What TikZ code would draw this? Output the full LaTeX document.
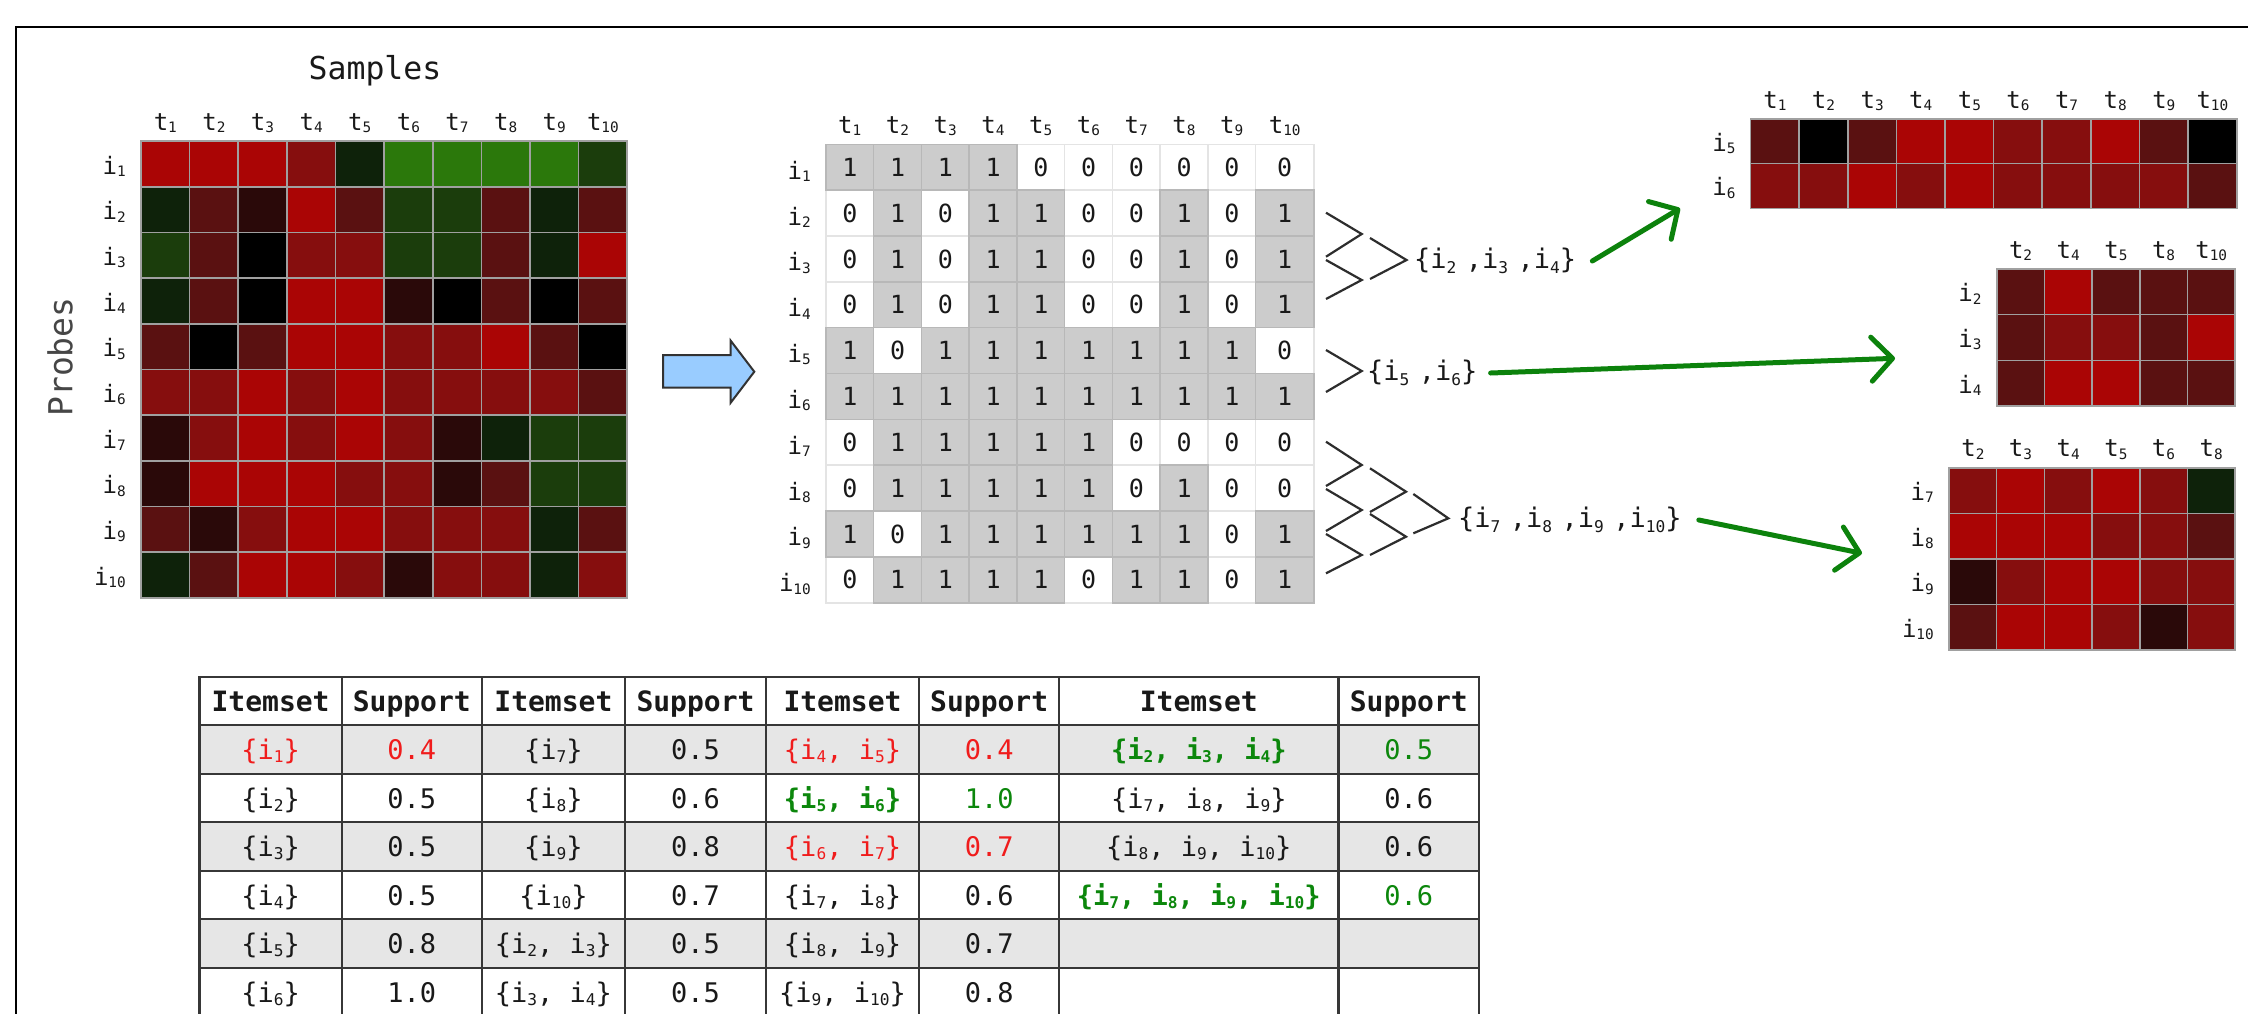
\documentclass[tikz,border=0pt]{standalone}
\usepackage{fontspec}
\setmainfont{DejaVu Sans Mono}
\usepackage{graphicx}
\usetikzlibrary{arrows.meta}

% heat-map palette
\definecolor{hR1}{RGB}{170,5,5}
\definecolor{hR2}{RGB}{134,14,14}
\definecolor{hR3}{RGB}{90,17,17}
\definecolor{hR4}{RGB}{42,9,9}
\definecolor{hK}{RGB}{0,0,0}
\definecolor{hG1}{RGB}{43,120,11}
\definecolor{hG3}{RGB}{27,61,12}
\definecolor{hG4}{RGB}{14,34,10}
\definecolor{hgrid}{RGB}{160,160,160}
% other colours
\definecolor{txt}{RGB}{25,25,25}
\definecolor{probegray}{RGB}{70,70,70}
\definecolor{bingray}{RGB}{204,204,204}
\definecolor{binline}{RGB}{184,184,184}
\definecolor{binlight}{RGB}{228,228,228}
\definecolor{arrowblue}{RGB}{153,204,255}
\definecolor{arrowedge}{RGB}{50,50,50}
\definecolor{chevgray}{RGB}{45,45,45}
\definecolor{linkgreen}{RGB}{12,130,12}
\definecolor{tred}{RGB}{240,28,28}
\definecolor{tgreen}{RGB}{12,135,12}
\definecolor{rowgray}{RGB}{230,230,230}
\definecolor{tabgrid}{RGB}{55,55,55}

% small lowered index digits
\newcommand{\subidx}[1]{\raisebox{-0.1em}{\scalebox{0.6}{#1}}}
\newcommand{\lowidx}[1]{\raisebox{-0.2em}{\scalebox{0.6}{#1}}}
\newcommand{\sgap}{\hspace{0.35em}}

% coloured cells of a heat map: x0, y0, cell width, cell height, rows
\newcommand{\heatcells}[5]{%
  \foreach \rowlist [count=\ri] in {#5} {%
    \foreach \cc [count=\ci] in \rowlist {%
      \filldraw[fill=h\cc, draw=hgrid, line width=1.6pt]
        ({#1+(\ci-1)*#3},{#2+(\ri-1)*#4}) rectangle ++(#3,#4);
    }
  }
}
% sample and probe labels of a heat map: x0, y0, w, h, columns, rows, name
\newcommand{\heatlabels}[7]{%
  \foreach \lab [count=\ci] in {#5}
    \node[lbl, anchor=base] (#7-c\ci) at ({#1+(\ci-0.5)*#3},{#2-11}) {t\subidx{\lab}};
  \foreach \lab [count=\ri] in {#6}
    \node[lbl, anchor=base east] (#7-r\ri) at ({#1-15},{#2+(\ri-0.5)*#4+10}) {i\subidx{\lab}};
}
% one table entry: column, row, style, text
\newcommand{\tabtext}[4]{%
  \edef\tabxval{\ifcase#1\or270.6\or411.8\or553.4\or695.5\or842.5\or989.2\or1198.8\or1408.8\fi}%
  \node[tabtxt,#3] (tb-#2-#1) at (\tabxval,{676.7+(#2+0.5)*48.5+10.5}) {#4};}

\def\binrows{{1,1,1,1,0,0,0,0,0,0},{0,1,0,1,1,0,0,1,0,1},{0,1,0,1,1,0,0,1,0,1},%
{0,1,0,1,1,0,0,1,0,1},{1,0,1,1,1,1,1,1,1,0},{1,1,1,1,1,1,1,1,1,1},%
{0,1,1,1,1,1,0,0,0,0},{0,1,1,1,1,1,0,1,0,0},{1,0,1,1,1,1,1,1,0,1},%
{0,1,1,1,1,0,1,1,0,1}}

\begin{document}
\begin{tikzpicture}[x=1pt,y=-1pt,
  lbl/.style={font=\fontsize{24}{24}\selectfont, text=txt, inner sep=0pt},
  bindig/.style={font=\fontsize{25}{25}\selectfont, text=txt, inner sep=0pt},
  grp/.style={font=\fontsize{27}{27}\selectfont, text=txt, inner sep=0pt, anchor=west},
  chev/.style={draw=chevgray, line width=2.2pt},
  link/.style={draw=linkgreen, line width=5pt, line cap=round,
    -{Straight Barb[length=21pt,width=44pt,round]}},
  tabtxt/.style={font=\fontsize{27}{27}\selectfont, text=txt, anchor=base, inner sep=0pt},
  thead/.style={font=\fontsize{28}{28}\selectfont\bfseries},
  tr/.style={text=tred},
  tg/.style={text=tgreen},
  tgb/.style={text=tgreen, font=\fontsize{27}{27}\selectfont\bfseries},
  tabrule/.style={draw=tabgrid, line width=2.2pt, line cap=rect}]

\useasboundingbox (0,0) rectangle (2248,1013);
\fill[white] (0,0) rectangle (2248,1013);

% outer frame
\draw[line width=2.6pt, black] (16,1020) -- (16,26.8) -- (2255,26.8);

% ---------- expression heat map ----------
\node[font=\fontsize{31.5}{31.5}\selectfont, text=txt, anchor=base, inner sep=0pt] (samples) at (375,79) {Samples};
\node[font=\fontsize{33}{33}\selectfont, text=probegray, rotate=90, inner sep=0pt] (probes) at (60,357) {Probes};
\heatcells{141}{141.2}{48.62}{45.67}{%
{R1,R1,R1,R2,G4,G1,G1,G1,G1,G3},
{G4,R3,R4,R1,R3,G3,G3,R3,G4,R3},
{G3,R3,K,R2,R2,G3,G3,R3,G4,R1},
{G4,R3,K,R1,R1,R4,K,R3,K,R3},
{R3,K,R3,R1,R1,R2,R2,R1,R3,K},
{R2,R2,R1,R2,R1,R2,R2,R2,R2,R3},
{R4,R2,R1,R2,R1,R2,R4,G4,G3,G3},
{R4,R1,R1,R1,R2,R2,R4,R3,G3,G3},
{R3,R4,R2,R1,R1,R2,R2,R2,G4,R3},
{G4,R3,R1,R1,R2,R4,R2,R2,G4,R2}}
\heatlabels{141}{141.2}{48.62}{45.67}{1,2,3,4,5,6,7,8,9,10}{1,2,3,4,5,6,7,8,9,10}{hm}

% ---------- discretisation arrow ----------
\filldraw[fill=arrowblue, draw=arrowedge, line width=2pt, line join=miter]
  (663,355) -- (730.7,355) -- (730.7,340.7) -- (754.3,371.7) -- (730.7,402.7)
  -- (730.7,387.7) -- (663,387.7) -- cycle;

% ---------- binary matrix ----------
\foreach \rowlist [count=\ri] in \binrows {
  \foreach \v [count=\ci] in \rowlist {
    \pgfmathsetmacro{\xl}{825.9+(\ci-1)*47.75}
    \pgfmathsetmacro{\cw}{\ci==10 ? 58.1 : 47.75}
    \pgfmathsetmacro{\yt}{144.3+(\ri-1)*45.84}
    \filldraw[fill=white, draw=binlight, line width=1.6pt] (\xl,\yt) rectangle ++(\cw,45.84);
  }
}
\foreach \rowlist [count=\ri] in \binrows {
  \foreach \v [count=\ci] in \rowlist {
    \pgfmathsetmacro{\xl}{825.9+(\ci-1)*47.75}
    \pgfmathsetmacro{\cw}{\ci==10 ? 58.1 : 47.75}
    \pgfmathsetmacro{\yt}{144.3+(\ri-1)*45.84}
    \ifnum\v=1
      \filldraw[fill=bingray, draw=binline, line width=1.6pt] (\xl,\yt) rectangle ++(\cw,45.84);
    \fi
  }
}
\foreach \rowlist [count=\ri] in \binrows {
  \foreach \v [count=\ci] in \rowlist {
    \pgfmathsetmacro{\xl}{825.9+(\ci-1)*47.75}
    \pgfmathsetmacro{\cw}{\ci==10 ? 58.1 : 47.75}
    \pgfmathsetmacro{\yt}{144.3+(\ri-1)*45.84}
    \node[bindig] (bin-\ri-\ci) at ({\xl+\cw/2},{\yt+22.92}) {\v};
  }
}
\foreach \ci in {1,...,10} {
  \pgfmathsetmacro{\xc}{\ci==10 ? 1284.7 : 825.9+(\ci-0.5)*47.75}
  \node[lbl, anchor=base] (bc-\ci) at (\xc,133.3) {t\subidx{\ci}};
  \node[lbl, anchor=base east] (br-\ci) at (811,{144.3+(\ci-0.5)*45.84+12}) {i\subidx{\ci}};
}

% ---------- merging brackets ----------
% i2, i3, i4
\draw[chev] (1326,212.7) -- (1361.7,234) -- (1326,256.7);
\draw[chev] (1326,260) -- (1361.7,280) -- (1326,299);
\draw[chev] (1370,238) -- (1406.5,260) -- (1370,279);
% i5, i6
\draw[chev] (1326,350) -- (1361.7,371) -- (1326,392);
% i7, i8, i9, i10
\draw[chev] (1326,441.7) -- (1361.7,465) -- (1326,486);
\draw[chev] (1326,489) -- (1361.7,510) -- (1326,531);
\draw[chev] (1326,534) -- (1361.7,555) -- (1326,573.3);
\draw[chev] (1370,468.3) -- (1406,491.7) -- (1370,512);
\draw[chev] (1370,514) -- (1406,536.7) -- (1370,555);
\draw[chev] (1413.3,494) -- (1448.3,518.3) -- (1413.3,533.3);

\node[grp] (g1) at (1414,261) {\{i\lowidx{2}\sgap,i\lowidx{3}\sgap,i\lowidx{4}\}};
\node[grp] (g2) at (1367,373) {\{i\lowidx{5}\sgap,i\lowidx{6}\}};
\node[grp] (g3) at (1458,520) {\{i\lowidx{7}\sgap,i\lowidx{8}\sgap,i\lowidx{9}\sgap,i\lowidx{10}\}};

% ---------- extracted sub-matrices ----------
\heatcells{1750.6}{119}{48.61}{44.65}{%
{R3,K,R3,R1,R1,R2,R2,R1,R3,K},
{R2,R2,R1,R2,R1,R2,R2,R2,R2,R3}}
\heatlabels{1750.6}{119}{48.61}{44.65}{1,2,3,4,5,6,7,8,9,10}{5,6}{hmA}

\heatcells{1996.7}{269}{47.67}{45.67}{%
{R3,R1,R3,R3,R3},
{R3,R2,R2,R3,R1},
{R3,R1,R1,R3,R3}}
\heatlabels{1996.7}{269}{47.67}{45.67}{2,4,5,8,10}{2,3,4}{hmB}

\heatcells{1949}{467.7}{47.67}{45.6}{%
{R2,R1,R2,R1,R2,G4},
{R1,R1,R1,R2,R2,R3},
{R4,R2,R1,R1,R2,R2},
{R3,R1,R1,R2,R4,R2}}
\heatlabels{1949}{467.7}{47.67}{45.6}{2,3,4,5,6,8}{7,8,9,10}{hmC}

% links from itemsets to their sub-matrices
\coordinate (toA) at (1680,208.3);
\coordinate (toB) at (1895,358.3);
\coordinate (toC) at (1862,553.3);
\draw[link] ([xshift=16pt]g1.east) -- (toA);
\draw[link] ([xshift=13pt]g2.east) -- (toB);
\draw[link] ([xshift=17pt]g3.east) -- (toC);

% ---------- support table ----------
\foreach \yy in {725.2,822.2,919.2}
  \fill[rowgray] (199.5,\yy) rectangle (1479.2,\yy+48.5);
\foreach \yy in {676.7,725.2,773.7,822.2,870.7,919.2,967.7}
  \draw[tabrule] (199.5,\yy) -- (1479.2,\yy);
\foreach \xx in {199.5,341.8,481.8,625,765.9,919.2,1059.2,1338.4,1479.2}
  \draw[tabrule] (\xx,676.7) -- (\xx,1025);

\tabtext{1}{0}{thead}{Itemset}
\tabtext{2}{0}{thead}{Support}
\tabtext{3}{0}{thead}{Itemset}
\tabtext{4}{0}{thead}{Support}
\tabtext{5}{0}{thead}{Itemset}
\tabtext{6}{0}{thead}{Support}
\tabtext{7}{0}{thead}{Itemset}
\tabtext{8}{0}{thead}{Support}

\tabtext{1}{1}{tr}{\{i\subidx{1}\}}
\tabtext{2}{1}{tr}{0.4}
\tabtext{3}{1}{}{\{i\subidx{7}\}}
\tabtext{4}{1}{}{0.5}
\tabtext{5}{1}{tr}{\{i\subidx{4}, i\subidx{5}\}}
\tabtext{6}{1}{tr}{0.4}
\tabtext{7}{1}{tgb}{\{i\subidx{2}, i\subidx{3}, i\subidx{4}\}}
\tabtext{8}{1}{tg}{0.5}

\tabtext{1}{2}{}{\{i\subidx{2}\}}
\tabtext{2}{2}{}{0.5}
\tabtext{3}{2}{}{\{i\subidx{8}\}}
\tabtext{4}{2}{}{0.6}
\tabtext{5}{2}{tgb}{\{i\subidx{5}, i\subidx{6}\}}
\tabtext{6}{2}{tg}{1.0}
\tabtext{7}{2}{}{\{i\subidx{7}, i\subidx{8}, i\subidx{9}\}}
\tabtext{8}{2}{}{0.6}

\tabtext{1}{3}{}{\{i\subidx{3}\}}
\tabtext{2}{3}{}{0.5}
\tabtext{3}{3}{}{\{i\subidx{9}\}}
\tabtext{4}{3}{}{0.8}
\tabtext{5}{3}{tr}{\{i\subidx{6}, i\subidx{7}\}}
\tabtext{6}{3}{tr}{0.7}
\tabtext{7}{3}{}{\{i\subidx{8}, i\subidx{9}, i\subidx{10}\}}
\tabtext{8}{3}{}{0.6}

\tabtext{1}{4}{}{\{i\subidx{4}\}}
\tabtext{2}{4}{}{0.5}
\tabtext{3}{4}{}{\{i\subidx{10}\}}
\tabtext{4}{4}{}{0.7}
\tabtext{5}{4}{}{\{i\subidx{7}, i\subidx{8}\}}
\tabtext{6}{4}{}{0.6}
\tabtext{7}{4}{tgb}{\{i\subidx{7}, i\subidx{8}, i\subidx{9}, i\subidx{10}\}}
\tabtext{8}{4}{tg}{0.6}

\tabtext{1}{5}{}{\{i\subidx{5}\}}
\tabtext{2}{5}{}{0.8}
\tabtext{3}{5}{}{\{i\subidx{2}, i\subidx{3}\}}
\tabtext{4}{5}{}{0.5}
\tabtext{5}{5}{}{\{i\subidx{8}, i\subidx{9}\}}
\tabtext{6}{5}{}{0.7}

\tabtext{1}{6}{}{\{i\subidx{6}\}}
\tabtext{2}{6}{}{1.0}
\tabtext{3}{6}{}{\{i\subidx{3}, i\subidx{4}\}}
\tabtext{4}{6}{}{0.5}
\tabtext{5}{6}{}{\{i\subidx{9}, i\subidx{10}\}}
\tabtext{6}{6}{}{0.8}

\end{tikzpicture}
\end{document}
